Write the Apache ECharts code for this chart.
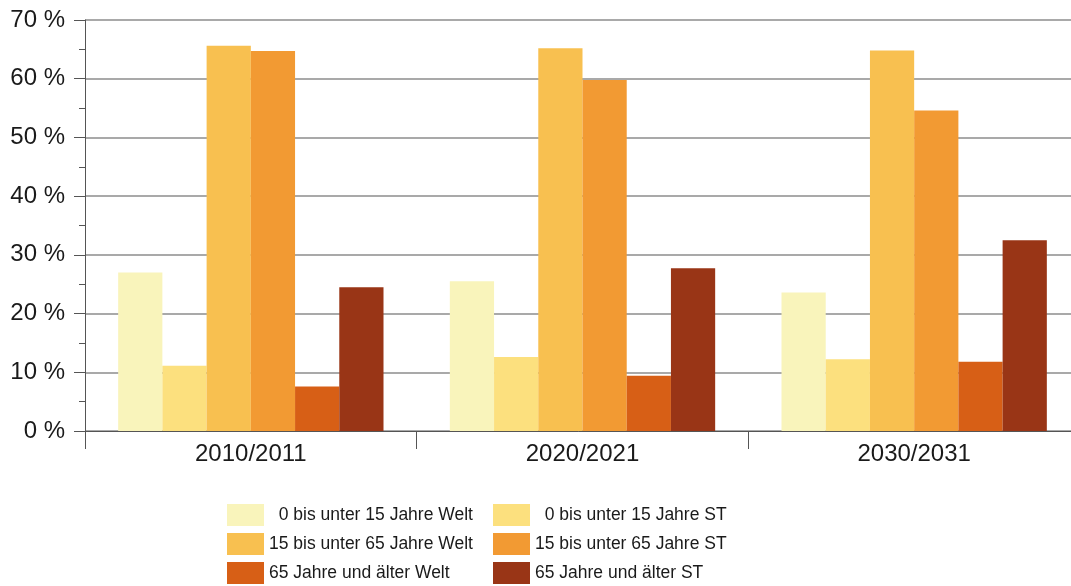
<!DOCTYPE html>
<html>
<head>
<meta charset="utf-8">
<script src="https://cdn.jsdelivr.net/npm/echarts@6/dist/echarts.min.js"></script>
<style>
  html, body { margin: 0; padding: 0; background: #fff; }
  #chart { width: 1071px; height: 586px; }
</style>
</head>
<body>
<div id="chart"></div>
<script>
// Kategorien (Schuljahre)
var categories = ["2010/2011", "2020/2021", "2030/2031"];

// Anteile in %
var jung_Welt = [27.0, 25.5, 23.6];
var jung_ST = [11.1, 12.6, 12.2];
var mittel_Welt = [65.6, 65.2, 64.8];
var mittel_ST = [64.7, 59.8, 54.6];
var alt_Welt = [7.6, 9.4, 11.8];
var alt_ST = [24.5, 27.7, 32.5];

var yTicks = [0, 10, 20, 30, 40, 50, 60, 70];

var names = [
  "0 bis unter 15 Jahre Welt",
  "0 bis unter 15 Jahre ST",
  "15 bis unter 65 Jahre Welt",
  "15 bis unter 65 Jahre ST",
  "65 Jahre und älter Welt",
  "65 Jahre und älter ST"
];
var colors = ["#f9f4bb", "#fce07e", "#f8c050", "#f29a33", "#d75f16", "#993516"];
var values = [jung_Welt, jung_ST, mittel_Welt, mittel_ST, alt_Welt, alt_ST];

var chart = echarts.init(document.getElementById("chart"), null, { renderer: "canvas" });

var legendBase = {
  orient: "vertical",
  icon: "rect",
  itemWidth: 37,
  itemHeight: 22,
  itemGap: 7,
  padding: 0,
  height: 82,
  selectedMode: false,
  textStyle: {
    fontFamily: "'Liberation Sans', Arial, sans-serif",
    fontSize: 17.5,
    color: "#1a1a1a"
  },
  formatter: function(name) {
    // die "0 bis"-Einträge sind im Original etwas eingerückt
    return name.charAt(0) === "0" ? "  " + name : name;
  }
};

var option = {
  backgroundColor: "#fff",
  animation: false,
  color: colors,
  legend: [
    Object.assign({}, legendBase, {
      left: 227,
      top: 504,
      data: [names[0], names[2], names[4]]
    }),
    Object.assign({}, legendBase, {
      left: 493,
      top: 504,
      data: [names[1], names[3], names[5]]
    })
  ],
  grid: {
    left: 85,
    top: 20,
    width: 995,
    bottom: 155,
    outerBoundsMode: "none",
    containLabel: false
  },
  xAxis: {
    type: "category",
    data: categories,
    axisLine: { lineStyle: { color: "#555", width: 1 } },
    axisTick: { show: true, length: 18, lineStyle: { color: "#555" } },
    axisLabel: {
      margin: 11,
      fontFamily: "'Liberation Sans', Arial, sans-serif",
      fontSize: 24,
      color: "#1a1a1a"
    }
  },
  yAxis: {
    type: "value",
    min: yTicks[0],
    max: yTicks[yTicks.length - 1],
    interval: 10,
    axisLine: { show: true, lineStyle: { color: "#555", width: 1 } },
    axisTick: { show: true, length: 11, lineStyle: { color: "#555" } },
    minorTick: { show: true, splitNumber: 2, length: 6, lineStyle: { color: "#555" } },
    splitLine: { show: true, lineStyle: { color: "#8c8c8c", width: 1.5 } },
    axisLabel: {
      margin: 20,
      fontFamily: "'Liberation Sans', Arial, sans-serif",
      fontSize: 24,
      color: "#1a1a1a",
      formatter: "{value} %"
    }
  },
  series: names.map(function(n, i) {
    return {
      name: n,
      type: "bar",
      data: values[i],
      barGap: "0%",
      barCategoryGap: "20%",
      itemStyle: { color: colors[i] }
    };
  })
};

chart.setOption(option);
</script>
</body>
</html>
